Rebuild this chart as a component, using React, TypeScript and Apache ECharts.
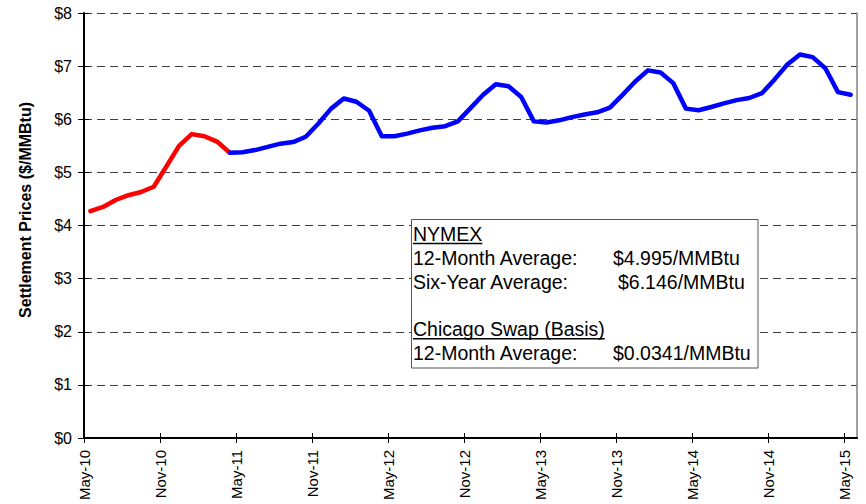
import React, { useEffect, useRef } from "react";
import * as echarts from "echarts";

// Tick labels on the x axis (every 6 months from May-10)
const tickLabels = ["May-10", "Nov-10", "May-11", "Nov-11", "May-12", "Nov-12", "May-13", "Nov-13", "May-14", "Nov-14", "May-15"];
const yTickLabels = ["$0", "$1", "$2", "$3", "$4", "$5", "$6", "$7", "$8"];

// Monthly settlement prices ($/MMBtu); month index 0 = May-10
const settledStart = 0;
const settledPrices = [4.27, 4.35, 4.48, 4.57, 4.63, 4.73, 5.11, 5.5, 5.72, 5.68, 5.58, 5.37];
const futuresStart = 11;
const futuresPrices = [
  5.37, 5.38, 5.42, 5.48, 5.54, 5.57, 5.67, 5.92, 6.2, 6.39, 6.33, 6.16,
  5.68, 5.68, 5.73, 5.79, 5.84, 5.87, 5.96, 6.21, 6.46, 6.66, 6.62, 6.42,
  5.96, 5.94, 5.98, 6.04, 6.09, 6.13, 6.22, 6.46, 6.71, 6.92, 6.88, 6.68,
  6.2, 6.17, 6.23, 6.3, 6.36, 6.4, 6.49, 6.75, 7.03, 7.22, 7.17, 6.96,
  6.51, 6.46,
];

// Annotation text
const boxLines = [
  { label: "NYMEX", value: "", underline: true },
  { label: "12-Month Average:", value: "$4.995/MMBtu", underline: false, vx: 613 },
  { label: "Six-Year Average:", value: "$6.146/MMBtu", underline: false, vx: 618 },
  { label: "", value: "", underline: false },
  { label: "Chicago Swap (Basis)", value: "", underline: true },
  { label: "12-Month Average:", value: "$0.0341/MMBtu", underline: false, vx: 613 },
];

const FONT = 'Arial, "Liberation Sans", sans-serif';
const BOX_FONT = `19.5px ${FONT}`;

export default function App() {
  const ref = useRef<HTMLDivElement>(null);
  useEffect(() => {
    document.body.style.margin = "0";
    const chart = echarts.init(ref.current!, undefined, { renderer: "svg" });
    const monthsMax = (tickLabels.length - 1) * 6 + 1;
    const tickVals = tickLabels.map((_, i) => i * 6);
    const toPts = (start: number, arr: number[]) => arr.map((v, i) => [start + i + 0.5, v]);

    const ctx = document.createElement("canvas").getContext("2d")!;
    ctx.font = BOX_FONT;

    const graphics: any[] = [
      {
        type: "text",
        x: 25,
        y: 210,
        rotation: Math.PI / 2,
        style: {
          text: "Settlement Prices ($/MMBtu)",
          font: `bold 16px ${FONT}`,
          fill: "#000",
          align: "center",
          verticalAlign: "middle",
        },
      },
      {
        type: "rect",
        shape: { x: 411.5, y: 219.5, width: 346.5, height: 148.5 },
        style: { fill: "#fff", stroke: "#555", lineWidth: 1 },
        z: 100,
      },
    ];
    const lineH = 23.8;
    boxLines.forEach((ln, i) => {
      const cy = 234 + i * lineH;
      if (ln.label) {
        graphics.push({
          type: "text",
          x: 413,
          y: cy,
          z: 101,
          style: { text: ln.label, font: BOX_FONT, fill: "#000", verticalAlign: "middle" },
        });
        if (ln.underline) {
          const w = ctx.measureText(ln.label).width;
          graphics.push({
            type: "line",
            z: 101,
            shape: { x1: 413, y1: cy + 9.5, x2: 413 + w, y2: cy + 9.5 },
            style: { stroke: "#000", lineWidth: 1.5 },
          });
        }
      }
      if (ln.value) {
        graphics.push({
          type: "text",
          x: (ln as any).vx,
          y: cy,
          z: 101,
          style: { text: ln.value, font: BOX_FONT, fill: "#000", verticalAlign: "middle" },
        });
      }
    });

    const yCommon = { type: "value", min: 0, max: 8, interval: 1 };
    chart.setOption({
      animation: false,
      grid: { left: 84, right: 9, top: 13, bottom: 66, containLabel: false },
      xAxis: [
        {
          type: "value",
          min: 0,
          max: monthsMax,
          interval: 6,
          position: "bottom",
          axisLine: { show: true, onZero: false, lineStyle: { color: "#000", width: 2 } },
          axisTick: { show: true, inside: false, length: 5, customValues: tickVals, lineStyle: { color: "#000" } },
          axisLabel: {
            show: true,
            customValues: tickVals,
            rotate: 90,
            margin: 12,
            color: "#000",
            fontSize: 15,
            fontFamily: FONT,
            formatter: (v: number) => tickLabels[Math.round(v / 6)] ?? "",
          },
          splitLine: { show: false },
        },
        {
          type: "value",
          min: 0,
          max: monthsMax,
          interval: 6,
          position: "bottom",
          axisLine: { show: false, onZero: false },
          axisTick: { show: true, inside: true, length: 5, customValues: tickVals, lineStyle: { color: "#000" } },
          axisLabel: { show: false },
          splitLine: { show: false },
        },
      ],
      yAxis: [
        {
          ...yCommon,
          position: "left",
          axisLine: { show: true, lineStyle: { color: "#000", width: 2 } },
          axisTick: { show: true, inside: false, length: 6, lineStyle: { color: "#000" } },
          axisLabel: {
            color: "#000",
            fontSize: 16,
            fontFamily: FONT,
            margin: 12,
            formatter: (v: number) => yTickLabels[Math.round(v)] ?? "",
          },
          splitLine: { show: true, lineStyle: { color: "#404040", width: 1, type: [8, 5] } },
        },
        {
          ...yCommon,
          position: "left",
          axisLine: { show: false },
          axisTick: { show: true, inside: true, length: 5, lineStyle: { color: "#000" } },
          axisLabel: { show: false },
          splitLine: { show: false },
        },
        {
          ...yCommon,
          position: "right",
          axisLine: { show: true, lineStyle: { color: "#808080", width: 1.5 } },
          axisTick: { show: false },
          axisLabel: { show: false },
          splitLine: { show: false },
        },
      ],
      series: [
        {
          type: "line",
          data: toPts(settledStart, settledPrices),
          showSymbol: false,
          lineStyle: { color: "#ff0000", width: 4.5, cap: "round", join: "round" },
          z: 3,
        },
        {
          type: "line",
          data: toPts(futuresStart, futuresPrices),
          showSymbol: false,
          lineStyle: { color: "#0000ff", width: 4.5, cap: "round", join: "round" },
          z: 4,
        },
      ],
      graphic: graphics,
    });
    return () => chart.dispose();
  }, []);
  return <div ref={ref} style={{ position: "absolute", left: 0, top: 0, width: 866, height: 504 }} />;
}
